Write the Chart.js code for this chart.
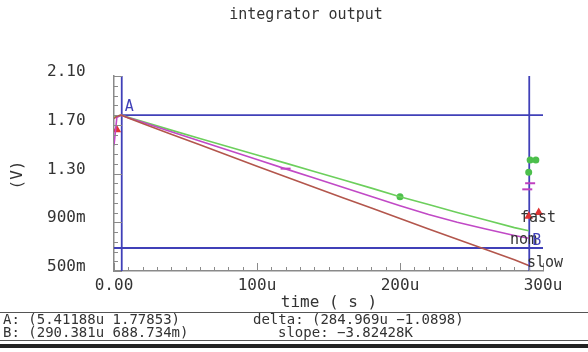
<!DOCTYPE html>
<html>
<head>
<meta charset="utf-8">
<script src="https://cdn.jsdelivr.net/npm/chart.js@4/dist/chart.umd.min.js"></script>
<style>
  html, body { margin: 0; padding: 0; background: #fff; }
  #wrap { width: 588px; height: 352px; }
</style>
</head>
<body>
<div id="wrap"><canvas id="plot" width="588" height="352"></canvas></div>
<script>
// time in microseconds, voltage in volts
const timeUs = [0, 2, 5, 10, 20, 40, 60, 80, 100, 120, 140, 160, 180, 200, 220, 240, 260, 280, 290];
const fastV = [1.76, 1.77, 1.779, 1.762, 1.726, 1.656, 1.588, 1.52, 1.452, 1.385, 1.316, 1.248, 1.18, 1.11, 1.045, 0.98, 0.918, 0.856, 0.83];
const nomV  = [1.53, 1.76, 1.779, 1.758, 1.72, 1.642, 1.566, 1.49, 1.414, 1.338, 1.263, 1.188, 1.112, 1.035, 0.963, 0.9, 0.845, 0.792, 0.768];
const slowV = [1.75, 1.77, 1.779, 1.755, 1.71, 1.622, 1.535, 1.448, 1.36, 1.274, 1.188, 1.102, 1.016, 0.93, 0.845, 0.76, 0.676, 0.592, 0.545];

const xTicks = [0, 100, 200, 300];
const yTicks = [0.5, 0.9, 1.3, 1.7, 2.1];
const xMinorPerMajor = 10;
const yMinorPerMajor = 5;

// cursors A and B: [time us, volts]
const cursorA = [5.41188, 1.77853];
const cursorB = [290.381, 0.688734];

// trace symbols
const fastMarks = [[200, 1.11], [291, 1.41], [295, 1.41], [290, 1.31]];
const nomMarks  = [[120, 1.34], [291, 1.22], [289, 1.17]];
const slowMarks = [[297, 0.98], [290, 0.95], [2, 1.66]];

const traceNames = ['fast', 'nom', 'slow'];

const mono = '"DejaVu Sans Mono", "Liberation Mono", monospace';
const blue = '#4040b8';

function toPoints(xs, ys) {
  return xs.map((x, i) => ({ x: x, y: ys[i] }));
}
function pairs(list) {
  return list.map(p => ({ x: p[0], y: p[1] }));
}

function fmtVolt(v) {
  if (v >= 1) return v.toFixed(2);
  return Math.round(v * 1000) + 'm';
}
function fmtTime(v) {
  if (v === 0) return '0.00';
  return Math.round(v) + 'u';
}

const xMin = xTicks[0], xMax = xTicks[xTicks.length - 1];
const yMin = yTicks[0], yMax = yTicks[yTicks.length - 1];

const traceLine = (label, data, color) => ({
  label: label, data: data, borderColor: color, borderWidth: 1.6,
  showLine: true, pointRadius: 0, tension: 0
});
const cursorLine = (data) => ({
  data: data, borderColor: blue, borderWidth: 1.8,
  showLine: true, pointRadius: 0, tension: 0
});
const markSet = (data, color, style, r) => ({
  data: data, borderColor: color, backgroundColor: color,
  pointStyle: style, pointRadius: r, borderWidth: 2, showLine: false
});

const decorations = {
  id: 'decorations',
  afterDraw(chart) {
    const ctx = chart.ctx;
    const xs = chart.scales.x, ys = chart.scales.y;
    const area = chart.chartArea;
    ctx.save();

    // inward tick marks
    ctx.strokeStyle = '#8a8a8a';
    ctx.lineWidth = 1;
    ctx.beginPath();
    const yStep = (yTicks[1] - yTicks[0]) / yMinorPerMajor;
    const yCount = Math.round((yMax - yMin) / yStep);
    for (let i = 0; i <= yCount; i++) {
      const py = Math.round(ys.getPixelForValue(yMin + i * yStep)) + 0.5;
      const len = i % yMinorPerMajor === 0 ? 8 : 4;
      ctx.moveTo(area.left, py);
      ctx.lineTo(area.left + len, py);
    }
    const xStep = (xTicks[1] - xTicks[0]) / xMinorPerMajor;
    const xCount = Math.round((xMax - xMin) / xStep);
    for (let i = 0; i <= xCount; i++) {
      const px = Math.round(xs.getPixelForValue(xMin + i * xStep)) + 0.5;
      const len = i % xMinorPerMajor === 0 ? 8 : 4;
      ctx.moveTo(px, area.bottom);
      ctx.lineTo(px, area.bottom - len);
    }
    ctx.stroke();

    ctx.fillStyle = '#333';
    ctx.textBaseline = 'middle';

    // title and axis titles
    ctx.font = '15px ' + mono;
    ctx.textAlign = 'center';
    ctx.fillText('integrator output', 306, 15);
    ctx.font = '16px ' + mono;
    ctx.fillText('time ( s )', 329, 303);
    ctx.save();
    ctx.translate(18, 175);
    ctx.rotate(-Math.PI / 2);
    ctx.fillText('(V)', 0, 0);
    ctx.restore();

    // trace names at the right
    ctx.font = '15px ' + mono;
    ctx.textAlign = 'left';
    const nameX = [520, 510, 527];
    const nameY = [218, 240, 263];
    traceNames.forEach((n, i) => ctx.fillText(n, nameX[i], nameY[i]));

    // cursor letters
    ctx.fillStyle = blue;
    ctx.font = '15px ' + mono;
    ctx.fillText('A', xs.getPixelForValue(cursorA[0]) + 3, ys.getPixelForValue(cursorA[1]) - 8);
    ctx.fillText('B', xs.getPixelForValue(cursorB[0]) + 3, ys.getPixelForValue(cursorB[1]) - 7);

    // readout panel
    ctx.fillStyle = '#333';
    ctx.font = '14px ' + mono;
    ctx.fillText('A: (5.41188u 1.77853)', 3, 320);
    ctx.fillText('delta: (284.969u \u22121.0898)', 253, 320);
    ctx.fillText('B: (290.381u 688.734m)', 3, 333);
    ctx.fillText('slope: \u22123.82428K', 278, 333);

    ctx.strokeStyle = '#555';
    ctx.beginPath();
    ctx.moveTo(0, 312.5);
    ctx.lineTo(588, 312.5);
    ctx.moveTo(0, 340.5);
    ctx.lineTo(588, 340.5);
    ctx.stroke();
    ctx.fillStyle = '#222';
    ctx.fillRect(0, 344, 588, 4);

    ctx.restore();
  }
};

new Chart(document.getElementById('plot'), {
  type: 'scatter',
  data: {
    datasets: [
      traceLine('slow', toPoints(timeUs, slowV), '#b3564c'),
      traceLine('nom', toPoints(timeUs, nomV), '#c149c6'),
      traceLine('fast', toPoints(timeUs, fastV), '#6ccf5c'),
      markSet(pairs(fastMarks), '#4cbf4c', 'circle', 2.5),
      markSet(pairs(nomMarks), '#c040c0', 'line', 5),
      markSet(pairs(slowMarks), '#e03434', 'triangle', 3),
      cursorLine([{ x: cursorA[0], y: yMin }, { x: cursorA[0], y: yMax }]),
      cursorLine([{ x: cursorB[0], y: yMin }, { x: cursorB[0], y: yMax }]),
      cursorLine([{ x: cursorA[0], y: cursorA[1] }, { x: xMax, y: cursorA[1] }]),
      cursorLine([{ x: xMin, y: cursorB[1] }, { x: xMax, y: cursorB[1] }])
    ]
  },
  options: {
    responsive: false,
    animation: false,
    layout: { padding: { top: 76, right: 45, left: 47, bottom: 0 } },
    plugins: {
      legend: { display: false },
      title: { display: false },
      tooltip: { enabled: false }
    },
    scales: {
      x: {
        type: 'linear', min: xMin, max: xMax,
        afterBuildTicks: s => { s.ticks = xTicks.map(v => ({ value: v })); },
        afterFit: s => { s.height = 81; },
        grid: { display: false, drawTicks: false },
        border: { display: true, color: '#8a8a8a', width: 1.5 },
        ticks: {
          callback: v => fmtTime(v), padding: 5, maxRotation: 0,
          color: '#333', font: { family: mono, size: 16 }
        }
      },
      y: {
        type: 'linear', min: yMin, max: yMax,
        afterBuildTicks: s => { s.ticks = yTicks.map(v => ({ value: v })); },
        afterFit: s => { s.width = 67; },
        grid: { display: false, drawTicks: false },
        border: { display: true, color: '#8a8a8a', width: 1.5 },
        ticks: {
          callback: v => fmtVolt(v), crossAlign: 'far', labelOffset: -4,
          color: '#333', font: { family: mono, size: 16 }
        }
      }
    }
  },
  plugins: [decorations]
});
</script>
</body>
</html>
